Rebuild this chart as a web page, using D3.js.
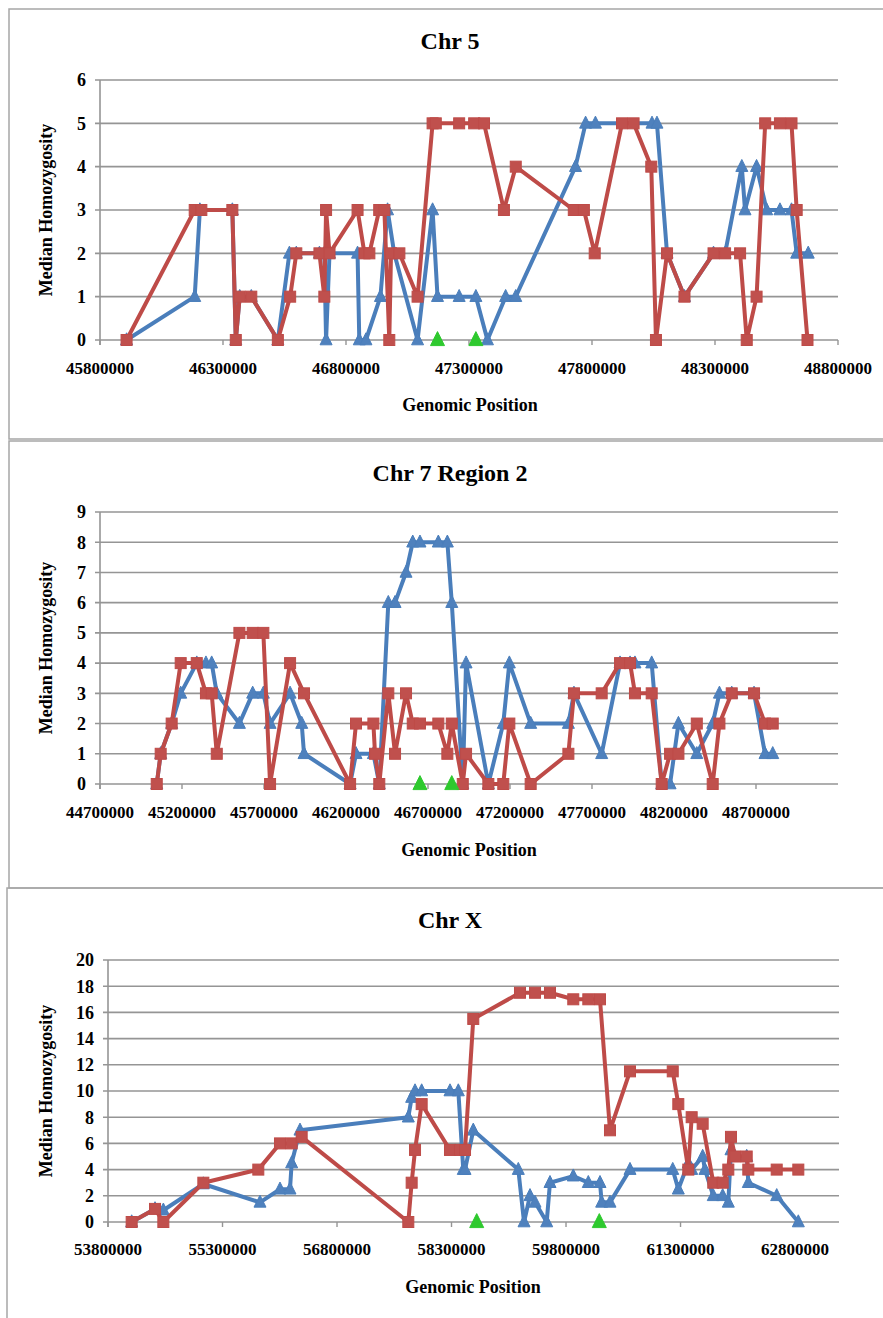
<!DOCTYPE html>
<html>
<head>
<meta charset="utf-8">
<script src="https://cdn.jsdelivr.net/npm/d3@7.9.0/dist/d3.min.js"></script>
<style>
  body { margin: 0; background: #fff; }
  svg { display: block; }
  text { font-family: "Liberation Serif", "Times New Roman", serif; font-weight: bold; fill: #000; }
</style>
</head>
<body>
<svg id="fig" width="883" height="1318"></svg>
<script>
// ---- data: [genomic position, median homozygosity] ----
const chr5Blue = [[45908000,0],[46185000,1],[46206000,3],[46338000,3],[46352000,0],[46368000,1],[46415000,1],[46523000,0],[46570000,2],[46598000,2],[46692000,2],[46712000,2],[46719000,0],[46733000,2],[46847000,2],[46854000,0],[46881000,0],[46940000,1],[46969000,3],[46996000,2],[47091000,0],[47152000,3],[47172000,1],[47260000,1],[47328000,1],[47375000,0],[47449000,1],[47490000,1],[47733000,4],[47774000,5],[47814000,5],[48044000,5],[48064000,5],[48105000,2],[48176000,1],[48294000,2],[48341000,2],[48409000,4],[48422000,3],[48469000,4],[48510000,3],[48564000,3],[48611000,3],[48632000,2],[48679000,2]];
const chr5Red = [[45908000,0],[46185000,3],[46212000,3],[46338000,3],[46352000,0],[46368000,1],[46415000,1],[46523000,0],[46573000,1],[46598000,2],[46692000,2],[46712000,1],[46719000,3],[46733000,2],[46847000,3],[46875000,2],[46895000,2],[46935000,3],[46956000,3],[46976000,0],[46983000,2],[47017000,2],[47091000,1],[47152000,5],[47165000,5],[47260000,5],[47321000,5],[47361000,5],[47442000,3],[47490000,4],[47726000,3],[47767000,3],[47811000,2],[47922000,5],[47969000,5],[48041000,4],[48060000,0],[48105000,2],[48176000,1],[48294000,2],[48341000,2],[48402000,2],[48429000,0],[48469000,1],[48504000,5],[48564000,5],[48611000,5],[48632000,3],[48676000,0]];
const chr5Green = [[47172000,0],[47328000,0]];
const chr5XTicks = [45800000,46300000,46800000,47300000,47800000,48300000,48800000];
const chr5YTicks = [0,1,2,3,4,5,6];

const chr7Blue = [[45046000,0],[45070000,1],[45137000,2],[45192000,3],[45290000,4],[45346000,4],[45381000,4],[45412000,3],[45550000,2],[45631000,3],[45696000,3],[45737000,2],[45859000,3],[45930000,2],[45944000,1],[46225000,0],[46261000,1],[46367000,1],[46403000,0],[46458000,6],[46499000,6],[46566000,7],[46607000,8],[46651000,8],[46763000,8],[46818000,8],[46845000,6],[46912000,0],[46932000,4],[47068000,0],[47159000,2],[47196000,4],[47326000,2],[47556000,2],[47590000,3],[47759000,1],[47871000,4],[47932000,4],[47962000,4],[48064000,4],[48125000,0],[48176000,0],[48227000,2],[48339000,1],[48436000,2],[48477000,3],[48552000,3],[48688000,3],[48755000,1],[48802000,1]];
const chr7Red = [[45046000,0],[45070000,1],[45137000,2],[45192000,4],[45290000,4],[45346000,3],[45381000,3],[45412000,1],[45550000,5],[45631000,5],[45696000,5],[45737000,0],[45859000,4],[45944000,3],[46225000,0],[46261000,2],[46367000,2],[46377000,1],[46403000,0],[46458000,3],[46499000,1],[46566000,3],[46607000,2],[46651000,2],[46763000,2],[46818000,1],[46845000,2],[46912000,0],[46932000,1],[47068000,0],[47159000,0],[47196000,2],[47326000,0],[47556000,1],[47590000,3],[47759000,3],[47871000,4],[47932000,4],[47962000,3],[48064000,3],[48125000,0],[48176000,1],[48227000,1],[48339000,2],[48436000,0],[48477000,2],[48552000,3],[48688000,3],[48755000,2],[48802000,2]];
const chr7Green = [[46651000,0],[46845000,0]];
const chr7XTicks = [44700000,45200000,45700000,46200000,46700000,47200000,47700000,48200000,48700000];
const chr7YTicks = [0,1,2,3,4,5,6,7,8,9];

const chrXBlue = [[54110000,0],[54416000,1],[54525000,0.9],[55049000,2.9],[55791000,1.5],[56053000,2.5],[56184000,2.5],[56206000,4.5],[56315000,7],[57734000,8],[57778000,9.5],[57822000,10],[57909000,10],[58280000,10],[58389000,10],[58454000,4],[58477000,4],[58585000,7],[59175000,4],[59250000,0],[59328000,2],[59394000,1.5],[59547000,0],[59590000,3],[59895000,3.5],[60092000,3],[60245000,3],[60267000,1.5],[60376000,1.5],[60638000,4],[61198000,4],[61271000,2.5],[61402000,4.5],[61446000,4],[61590000,5],[61620000,4],[61729000,2],[61852000,2],[61926000,1.5],[61961000,5.5],[62014000,5],[62167000,5],[62188000,3],[62560000,2],[62843000,0]];
const chrXRed = [[54110000,0],[54416000,1],[54525000,0],[55049000,3],[55769000,4],[56053000,6],[56206000,6],[56337000,6.5],[57734000,0],[57778000,3],[57822000,5.5],[57909000,9],[58280000,5.5],[58411000,5.5],[58477000,5.5],[58585000,15.5],[59197000,17.5],[59394000,17.5],[59590000,17.5],[59895000,17],[60092000,17],[60245000,17],[60376000,7],[60638000,11.5],[61198000,11.5],[61271000,9],[61402000,4],[61446000,8],[61590000,7.5],[61729000,3],[61852000,3],[61926000,4],[61961000,6.5],[62014000,5],[62167000,5],[62188000,4],[62560000,4],[62843000,4]];
const chrXGreen = [[58630000,0],[60236000,0]];
const chrXXTicks = [53800000,55300000,56800000,58300000,59800000,61300000,62800000];
const chrXYTicks = [0,2,4,6,8,10,12,14,16,18,20];

// ---- layout ----
const panels = [
  { title: "Chr 5", blue: chr5Blue, red: chr5Red, green: chr5Green, xTicks: chr5XTicks, yTicks: chr5YTicks,
    xDomain: [45800000, 48800000], frame: { top: 9, bottom: 439, left: 9 },
    plot: { left: 100, right: 838, top: 80, bottom: 340 }, titleY: 49, xLabelY: 374, xTitleY: 411, xTitleX: 470 },
  { title: "Chr 7 Region 2", blue: chr7Blue, red: chr7Red, green: chr7Green, xTicks: chr7XTicks, yTicks: chr7YTicks,
    xDomain: [44700000, 49200000], frame: { top: 441, bottom: 888, left: 9 },
    plot: { left: 100, right: 838, top: 512, bottom: 784 }, titleY: 481, xLabelY: 818, xTitleY: 856, xTitleX: 469 },
  { title: "Chr X", blue: chrXBlue, red: chrXRed, green: chrXGreen, xTicks: chrXXTicks, yTicks: chrXYTicks,
    xDomain: [53800000, 63376000], frame: { top: 888, bottom: 1330, left: 7 },
    plot: { left: 108, right: 839, top: 960, bottom: 1222 }, titleY: 928, xLabelY: 1255, xTitleY: 1293, xTitleX: 473 }
];

const svg = d3.select("#fig");
const BLUE = "#4a7ebb", BLUE_FILL = "#4f81bd", RED = "#be4b48", RED_FILL = "#c0504d", GREEN = "#2ec92e";

panels.forEach(p => {
  const g = svg.append("g");

  // frame
  g.append("path")
    .attr("d", `M883,${p.frame.top}H${p.frame.left}V${p.frame.bottom}H883`)
    .attr("fill", "none").attr("stroke", "#a6a6a6").attr("stroke-width", 1.5);

  const x = d3.scaleLinear().domain(p.xDomain).range([p.plot.left, p.plot.right]);
  const y = d3.scaleLinear().domain([0, d3.max(p.yTicks)]).range([p.plot.bottom, p.plot.top]);

  // gridlines
  g.selectAll(".grid").data(p.yTicks).join("line")
    .attr("x1", p.plot.left - 5).attr("x2", p.plot.right)
    .attr("y1", d => y(d)).attr("y2", d => y(d))
    .attr("stroke", "#959595").attr("stroke-width", 1.6);

  // axis lines
  g.append("line").attr("x1", p.plot.left).attr("x2", p.plot.left)
    .attr("y1", p.plot.top).attr("y2", p.plot.bottom + 5)
    .attr("stroke", "#959595").attr("stroke-width", 1.6);
  g.selectAll(".xtick").data(p.xTicks).join("line")
    .attr("x1", d => x(d)).attr("x2", d => x(d))
    .attr("y1", p.plot.bottom).attr("y2", p.plot.bottom + 5)
    .attr("stroke", "#959595").attr("stroke-width", 1.4);

  // tick labels
  g.selectAll(".ylab").data(p.yTicks).join("text")
    .attr("x", p.plot.left - 14).attr("y", d => y(d)).attr("dy", "0.35em")
    .attr("text-anchor", "end").attr("font-size", 18)
    .text(d => d);
  g.selectAll(".xlab").data(p.xTicks).join("text")
    .attr("x", d => x(d)).attr("y", p.xLabelY)
    .attr("text-anchor", "middle").attr("font-size", 17)
    .attr("textLength", 68).attr("lengthAdjust", "spacingAndGlyphs")
    .text(d => d);

  // titles
  g.append("text").attr("x", 450).attr("y", p.titleY)
    .attr("text-anchor", "middle").attr("font-size", 24).text(p.title);
  g.append("text").attr("x", p.xTitleX).attr("y", p.xTitleY)
    .attr("text-anchor", "middle").attr("font-size", 18).text("Genomic Position");
  g.append("text")
    .attr("transform", `translate(52,${(p.plot.top + p.plot.bottom) / 2}) rotate(-90)`)
    .attr("text-anchor", "middle").attr("font-size", 18).text("Median Homozygosity");

  const line = d3.line().x(d => x(d[0])).y(d => y(d[1]));
  const tri = (d, s) => {
    const cx = x(d[0]), cy = y(d[1]);
    return `M${cx},${cy - s * 0.6}L${cx + s / 2},${cy + s * 0.4}L${cx - s / 2},${cy + s * 0.4}Z`;
  };

  // blue series
  g.append("path").datum(p.blue).attr("d", line)
    .attr("fill", "none").attr("stroke", BLUE).attr("stroke-width", 4).attr("stroke-linejoin", "round");
  g.selectAll(".btri").data(p.blue).join("path")
    .attr("d", d => tri(d, 12)).attr("fill", BLUE_FILL).attr("stroke", BLUE).attr("stroke-width", 1);

  // red series
  g.append("path").datum(p.red).attr("d", line)
    .attr("fill", "none").attr("stroke", RED).attr("stroke-width", 4).attr("stroke-linejoin", "round");
  g.selectAll(".rsq").data(p.red).join("rect")
    .attr("x", d => x(d[0]) - 5.5).attr("y", d => y(d[1]) - 5.5)
    .attr("width", 11).attr("height", 11)
    .attr("fill", RED_FILL).attr("stroke", RED).attr("stroke-width", 1);

  // green markers
  g.selectAll(".gtri").data(p.green).join("path")
    .attr("d", d => tri(d, 14)).attr("fill", GREEN).attr("stroke", GREEN).attr("stroke-width", 1);
});
</script>
</body>
</html>
